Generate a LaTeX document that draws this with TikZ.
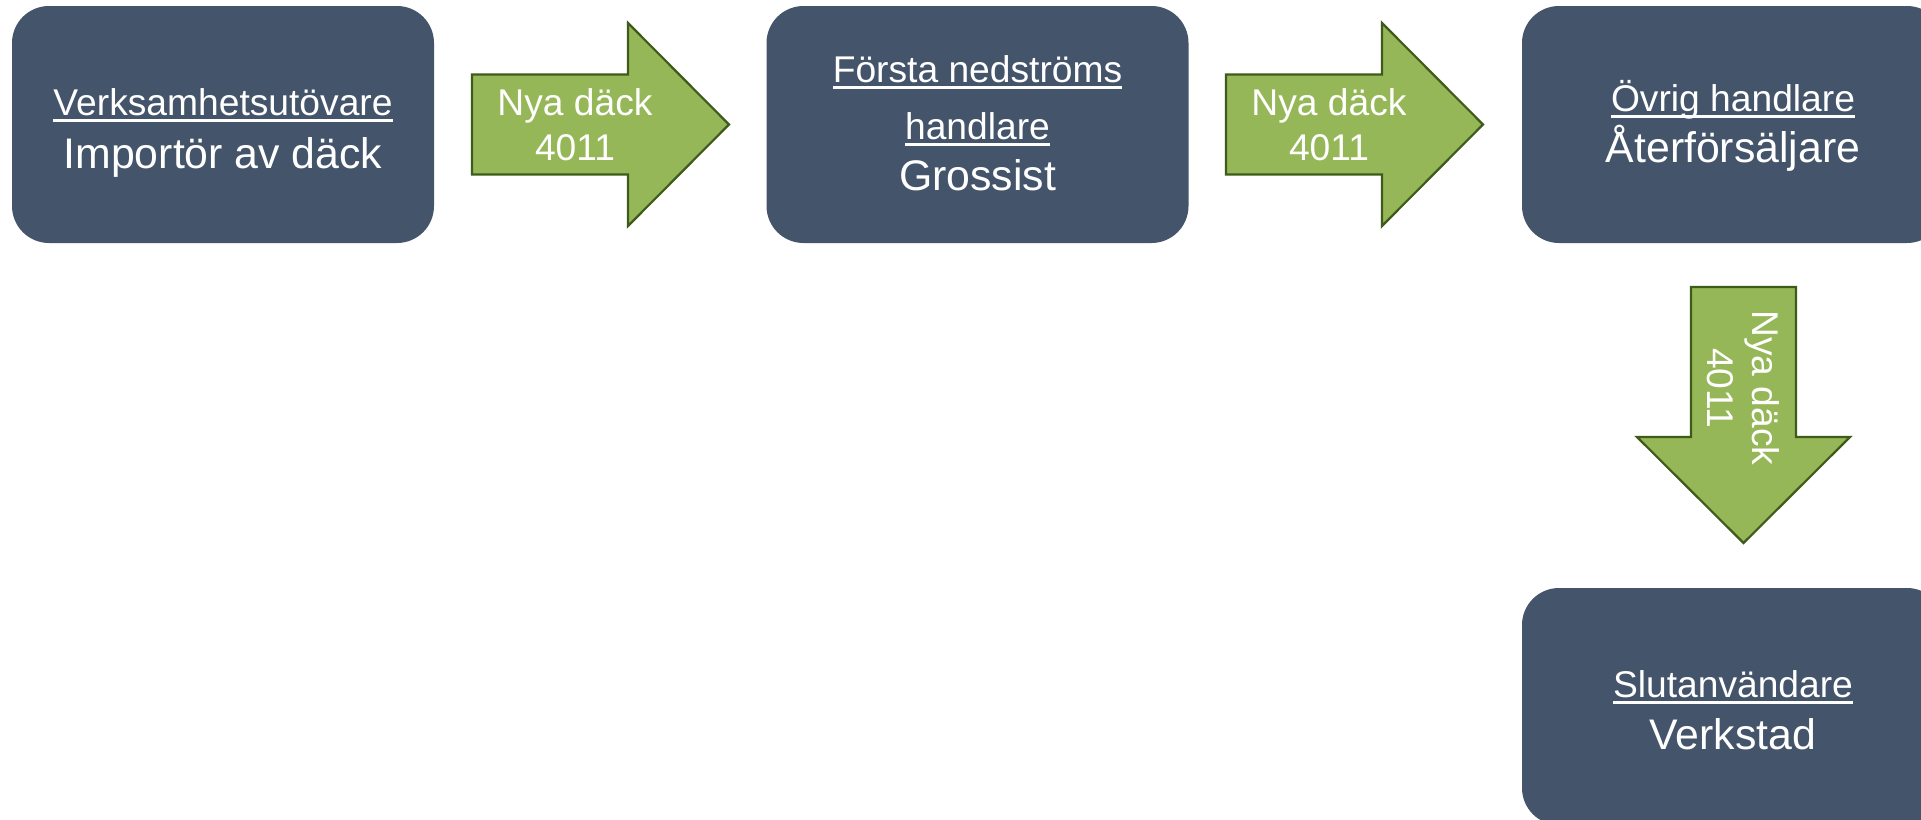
\documentclass[tikz,border=0pt]{standalone}
\usepackage{fontspec}
\setmainfont{Liberation Sans}
\definecolor{boxc}{HTML}{44546A}
\definecolor{arrf}{HTML}{96B757}
\definecolor{arrd}{HTML}{3F5B1B}
\newcommand\ulx[1]{\setbox0\hbox{#1}\rlap{\rule[-0.18em]{\wd0}{0.065em}}\box0}
\begin{document}
\begin{tikzpicture}[x=0.5pt,y=-0.5pt,
  box/.style={fill=boxc, draw=none, rounded corners=18.5pt, minimum width=211pt, minimum height=118.5pt, inner sep=0pt},
  big/.style={text=white, font=\fontsize{21.4}{26}\selectfont, anchor=base, inner sep=0pt},
  small/.style={text=white, font=\fontsize{18.6}{22}\selectfont, anchor=base, inner sep=0pt},
  blk/.style={fill=arrf, draw=arrd, line width=1.1pt, line join=miter}]
\useasboundingbox (0,0) rectangle (1921,819);
\clip (0,0) rectangle (1921,819);
\fill[white] (0,0) rectangle (1921,819);
% boxes
\node[box] (b1) at (223,124.5) {};
\node[box] (b2) at (977.5,124.5) {};
\node[box] (b3) at (1733,124.5) {};
\node[box] (b4) at (1733,706.5) {};
% box texts
\node[small] (b1a) at (223,115) {\ulx{Verksamhetsutövare}};
\node[big] (b1b) at (223,168) {Importör av däck};
\node[small] (b2a) at (977.5,82) {\ulx{Första nedströms}};
\node[small] (b2b) at (977.5,139) {\ulx{handlare}};
\node[big] (b2c) at (977.5,190) {Grossist};
\node[small] (b3a) at (1733,111) {\ulx{Övrig handlare}};
\node[big] (b3b) at (1733,162) {Återförsäljare};
\node[small] (b4a) at (1733,697) {\ulx{Slutanvändare}};
\node[big] (b4b) at (1733,749) {Verkstad};
% block arrows
\draw[blk] (472,74.5) -- (628,74.5) -- (628,23) -- (729,124.5) -- (628,226) -- (628,174.5) -- (472,174.5) -- cycle;
\draw[blk] (1226,74.5) -- (1382,74.5) -- (1382,23) -- (1483,124.5) -- (1382,226) -- (1382,174.5) -- (1226,174.5) -- cycle;
\draw[blk] (1691,287) -- (1796,287) -- (1796,437) -- (1850,437) -- (1743.5,543) -- (1637,437) -- (1691,437) -- cycle;
% arrow labels
\node[small] (a1a) at (575,115) {Nya däck};
\node[small] (a1b) at (575,160) {4011};
\node[small] (a2a) at (1329,115) {Nya däck};
\node[small] (a2b) at (1329,160) {4011};
\node[small, rotate=-90] (a3a) at (1752,388) {Nya däck};
\node[small, rotate=-90] (a3b) at (1707,388) {4011};
\end{tikzpicture}
\end{document}
